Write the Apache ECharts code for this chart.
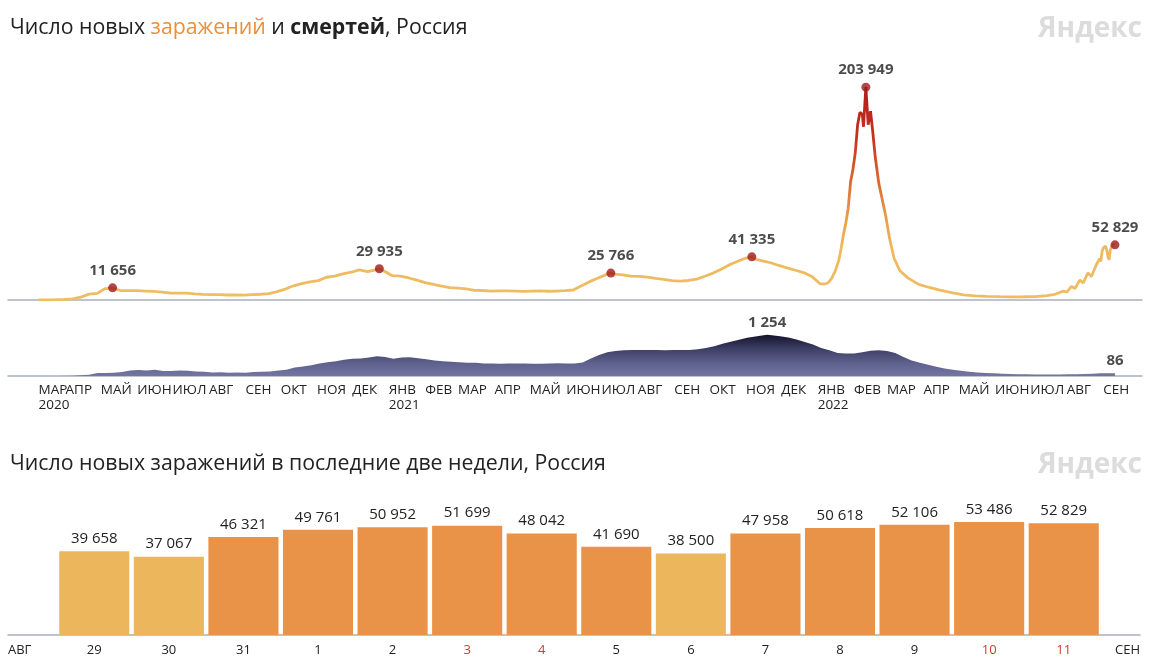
<!DOCTYPE html>
<html><head><meta charset="utf-8">
<script src="https://cdn.jsdelivr.net/npm/echarts@6/dist/echarts.min.js"></script>
<style>html,body{margin:0;padding:0;background:#fff}#c{width:1155px;height:670px}</style>
</head><body><div id="c"></div>
<script>
// ---------- DATA ----------
const casesDates = [
'2020-03-09','2020-03-20','2020-03-31','2020-04-07','2020-04-14','2020-04-21','2020-04-28','2020-05-04','2020-05-11','2020-05-18','2020-05-25',
'2020-06-01','2020-06-08','2020-06-15','2020-06-22','2020-06-29','2020-07-06','2020-07-13','2020-07-20','2020-07-27','2020-08-03','2020-08-10',
'2020-08-17','2020-08-24','2020-08-31','2020-09-07','2020-09-14','2020-09-21','2020-09-28','2020-10-05','2020-10-12','2020-10-19','2020-10-26',
'2020-11-02','2020-11-09','2020-11-16','2020-11-23','2020-11-30','2020-12-07','2020-12-14','2020-12-21','2020-12-24','2020-12-28',
'2021-01-04','2021-01-11','2021-01-18','2021-01-25','2021-02-01','2021-02-08','2021-02-15','2021-02-22','2021-03-01','2021-03-08','2021-03-15',
'2021-03-22','2021-03-29','2021-04-05','2021-04-12','2021-04-19','2021-04-26','2021-05-03','2021-05-10','2021-05-17','2021-05-24','2021-05-31',
'2021-06-07','2021-06-14','2021-06-21','2021-06-28','2021-07-05','2021-07-09','2021-07-12','2021-07-19','2021-07-26','2021-08-02','2021-08-09',
'2021-08-16','2021-08-23','2021-08-30','2021-09-06','2021-09-13','2021-09-20','2021-09-27','2021-10-04','2021-10-11','2021-10-18','2021-10-25',
'2021-11-01','2021-11-06','2021-11-08','2021-11-15','2021-11-22','2021-11-29','2021-12-06','2021-12-13','2021-12-20','2021-12-27',
'2022-01-03','2022-01-07','2022-01-10','2022-01-13','2022-01-16','2022-01-19','2022-01-21','2022-01-23','2022-01-25','2022-01-27','2022-01-29',
'2022-01-31','2022-02-02','2022-02-04','2022-02-06','2022-02-08','2022-02-09','2022-02-11','2022-02-13','2022-02-15','2022-02-17','2022-02-19',
'2022-02-22','2022-02-25','2022-02-28','2022-03-03','2022-03-07','2022-03-12','2022-03-19','2022-03-28','2022-04-06','2022-04-15','2022-04-25',
'2022-05-05','2022-05-15','2022-05-25','2022-06-05','2022-06-15','2022-06-25','2022-07-05','2022-07-15','2022-07-22','2022-07-29','2022-08-01',
'2022-08-05','2022-08-08','2022-08-12','2022-08-15','2022-08-19','2022-08-22','2022-08-26',
'2022-08-29','2022-08-30','2022-08-31','2022-09-01','2022-09-02','2022-09-03','2022-09-04','2022-09-05','2022-09-06','2022-09-07','2022-09-08',
'2022-09-09','2022-09-10','2022-09-11'];
const casesValues = [
10,60,500,1150,2800,5600,6400,10600,11656,8900,8900,
9000,8600,8200,7600,6700,6600,6500,5900,5400,5200,5100,
4800,4800,4700,5100,5500,6200,8100,10500,13600,15700,17300,
18600,21800,22800,25100,26600,28800,27300,28900,29935,27800,
23300,22900,21100,19000,16600,15000,13400,11800,11300,10600,9300,
9100,8500,8700,8800,8600,8300,8600,8800,8400,8600,9000,
9600,13700,17600,21000,24300,25766,24700,24000,22800,22600,21900,
20800,19800,18600,18100,18700,20000,22800,25800,29400,33700,37100,
40200,41335,39400,37600,35700,33100,30700,28500,26300,22600,
15600,15300,16500,21000,28000,38000,49500,63000,74000,88000,113000,
125000,141000,168000,180000,178000,166000,203949,168000,181000,160000,137000,
112000,96000,80000,60000,40000,28000,21000,15000,12000,9500,7000,
5000,4000,3500,3200,3000,3100,3300,4200,5500,8500,7500,
13000,11000,19000,16500,26000,22500,33500,
39658,37067,46321,49761,50952,51699,48042,41690,38500,47958,50618,
52106,53486,52829];

const deathsDates = [
'2020-03-09','2020-03-25','2020-04-07','2020-04-14','2020-04-21','2020-04-28','2020-05-05','2020-05-12','2020-05-19','2020-05-26',
'2020-06-02','2020-06-09','2020-06-16','2020-06-23','2020-06-30','2020-07-07','2020-07-14','2020-07-21','2020-07-28','2020-08-04',
'2020-08-11','2020-08-18','2020-08-25','2020-09-01','2020-09-08','2020-09-15','2020-09-22','2020-09-29','2020-10-06','2020-10-13',
'2020-10-20','2020-10-27','2020-11-03','2020-11-10','2020-11-17','2020-11-24','2020-12-01','2020-12-08','2020-12-15','2020-12-22','2020-12-29',
'2021-01-05','2021-01-12','2021-01-19','2021-01-26','2021-02-02','2021-02-09','2021-02-16','2021-02-23','2021-03-02','2021-03-09',
'2021-03-16','2021-03-23','2021-03-30','2021-04-06','2021-04-13','2021-04-20','2021-04-27','2021-05-04','2021-05-11','2021-05-18',
'2021-05-25','2021-06-01','2021-06-08','2021-06-15','2021-06-22','2021-06-29','2021-07-06','2021-07-13','2021-07-20','2021-07-27',
'2021-08-03','2021-08-10','2021-08-17','2021-08-24','2021-08-31','2021-09-07','2021-09-14','2021-09-21','2021-09-28','2021-10-05',
'2021-10-12','2021-10-19','2021-10-26','2021-11-02','2021-11-09','2021-11-16','2021-11-19','2021-11-23','2021-11-30','2021-12-07',
'2021-12-14','2021-12-21','2021-12-28',
'2022-01-04','2022-01-11','2022-01-18','2022-01-25','2022-02-01','2022-02-08','2022-02-15','2022-02-22','2022-03-01','2022-03-08',
'2022-03-15','2022-03-22','2022-03-29','2022-04-05','2022-04-12','2022-04-19','2022-04-26','2022-05-03','2022-05-10','2022-05-17',
'2022-05-24','2022-05-31','2022-06-07','2022-06-14','2022-06-21','2022-06-28','2022-07-05','2022-07-12','2022-07-19','2022-07-26',
'2022-08-02','2022-08-09','2022-08-16','2022-08-23','2022-08-30','2022-09-11'];
const deathsValues = [
0,1,5,20,40,90,90,100,120,170,
180,170,190,150,150,170,160,140,130,110,
115,100,110,100,120,130,140,170,190,260,
290,330,380,420,450,490,520,530,560,600,580,
520,560,570,540,510,470,450,430,420,400,
400,380,380,370,380,380,380,370,370,380,
390,380,380,410,530,640,720,760,780,790,
790,790,790,780,790,790,790,810,850,900,
980,1040,1100,1160,1200,1240,1254,1240,1210,1170,
1110,1030,960,
850,780,700,680,680,720,770,780,760,700,
580,470,400,340,280,230,190,160,130,110,
90,80,70,60,55,50,45,45,45,45,
50,55,60,70,80,86];

const casePeakDates = ['2020-05-11','2020-12-24','2021-07-09','2021-11-06','2022-02-11','2022-09-11'];
const casePeakValues = [11656, 29935, 25766, 41335, 203949, 52829];
const deathLabelDates = ['2021-11-19','2022-09-11'];
const deathLabelValues = [1254, 86];

const firstTickDate = '2020-03-09';
const firstTickLabel = 'МАР\n2020';
const monthTickDates = ['2020-04-01','2020-05-01','2020-06-01','2020-07-01','2020-08-01','2020-09-01','2020-10-01','2020-11-01','2020-12-01',
'2021-01-01','2021-02-01','2021-03-01','2021-04-01','2021-05-01','2021-06-01','2021-07-01','2021-08-01','2021-09-01','2021-10-01','2021-11-01','2021-12-01',
'2022-01-01','2022-02-01','2022-03-01','2022-04-01','2022-05-01','2022-06-01','2022-07-01','2022-08-01','2022-09-01'];
const monthTickLabels = ['АПР','МАЙ','ИЮН','ИЮЛ','АВГ','СЕН','ОКТ','НОЯ','ДЕК',
'ЯНВ\n2021','ФЕВ','МАР','АПР','МАЙ','ИЮН','ИЮЛ','АВГ','СЕН','ОКТ','НОЯ','ДЕК',
'ЯНВ\n2022','ФЕВ','МАР','АПР','МАЙ','ИЮН','ИЮЛ','АВГ','СЕН'];

const barDays = ['29','30','31','1','2','3','4','5','6','7','8','9','10','11'];
const barValues = [39658, 37067, 46321, 49761, 50952, 51699, 48042, 41690, 38500, 47958, 50618, 52106, 53486, 52829];
const weekendDays = ['3','4','10','11'];
const edgeMonthLabels = ['АВГ','СЕН'];

// ---------- CHART ----------
const FONT = '"Open Sans", "Noto Sans", sans-serif';
const fmt = n => String(n).replace(/\B(?=(\d{3})+(?!\d))/g, ' ');
const ts = s => { const [y, m, d] = s.split('-').map(Number); return Date.UTC(y, m - 1, d); };
const tickTs = monthTickDates.map(ts);
const AXIS_COLOR = '#a9b0bf';
const TITLE_SIZE = 21.3;
const monthLabelStyle = {align: 'left', color: '#222', fontSize: 13.5, fontFamily: FONT, margin: 7, lineHeight: 15,
  hideOverlap: false, showMinLabel: true, showMaxLabel: true};

const chart = echarts.init(document.getElementById('c'), null, {renderer: 'canvas'});
const dayAxisBase = {
  type: 'value', min: ts('2020-02-12'), max: ts('2022-10-04'),
  axisTick: {show: false}, splitLine: {show: false},
  axisLine: {lineStyle: {color: AXIS_COLOR, width: 1.5}}
};

chart.setOption({
  animation: false,
  backgroundColor: '#fff',
  textStyle: {fontFamily: FONT},
  title: [
    {left: 5, top: 12, text: '{n|Число новых }{o|заражений}{n| и }{b|смертей}{n|, Россия}',
     textStyle: {fontWeight: 'normal', rich: {
       n: {fontSize: TITLE_SIZE, color: '#222', fontWeight: 'normal', fontFamily: FONT},
       o: {fontSize: TITLE_SIZE, color: '#e8903a', fontWeight: 'normal', fontFamily: FONT},
       b: {fontSize: TITLE_SIZE, color: '#222', fontWeight: 'bold', fontFamily: FONT}}}},
    {left: 5, top: 448, text: 'Число новых заражений в последние две недели, Россия',
     textStyle: {fontSize: TITLE_SIZE, color: '#222', fontWeight: 'normal', fontFamily: FONT}}
  ],
  graphic: [
    {type: 'text', right: 13, top: 15, style: {text: 'Яндекс', font: 'bold 28px ' + FONT, fill: '#dcdcdc'}},
    {type: 'text', right: 13, top: 451, style: {text: 'Яндекс', font: 'bold 28px ' + FONT, fill: '#dcdcdc'}}
  ],
  grid: [
    {left: 8, right: 13, top: 60, height: 240},
    {left: 8, right: 13, top: 320, height: 56},
    {left: 57, right: 54, top: 487, height: 148},
    {left: 8, right: 15, top: 487, height: 148}
  ],
  xAxis: [
    Object.assign({}, dayAxisBase, {gridIndex: 0, axisLabel: {show: false}}),
    Object.assign({}, dayAxisBase, {gridIndex: 1, position: 'bottom', offset: 0, axisLabel: Object.assign({}, monthLabelStyle, {
      customValues: tickTs,
      formatter: v => { const i = tickTs.findIndex(t => Math.abs(t - v) < 43200000); return i >= 0 ? monthTickLabels[i] : ''; }
    })}),
    {type: 'category', gridIndex: 2, data: barDays.map(d => ({value: d, textStyle: {color: weekendDays.includes(d) ? '#c8402c' : '#222'}})),
     axisLine: {show: false}, axisTick: {show: false}, axisLabel: {fontSize: 13, margin: 9, fontFamily: FONT}},
    {type: 'category', gridIndex: 3, data: edgeMonthLabels, boundaryGap: false,
     axisLine: {lineStyle: {color: AXIS_COLOR, width: 1.5}}, axisTick: {show: false},
     axisLabel: {fontSize: 13, color: '#222', margin: 9, fontFamily: FONT, alignMinLabel: 'left', alignMaxLabel: 'right'}},
    Object.assign({}, dayAxisBase, {gridIndex: 1, position: 'bottom', offset: 0, axisLine: {show: false},
      axisLabel: Object.assign({}, monthLabelStyle, {
        customValues: [ts(firstTickDate)],
        formatter: () => firstTickLabel
      })})
  ],
  yAxis: [
    {gridIndex: 0, type: 'value', min: 0, max: 230000, show: false},
    {gridIndex: 1, type: 'value', min: 0, max: 1700, show: false},
    {gridIndex: 2, type: 'value', min: 0, max: 70000, show: false},
    {gridIndex: 3, type: 'value', min: 0, max: 1, show: false}
  ],
  series: [
    {type: 'line', xAxisIndex: 0, yAxisIndex: 0, symbol: 'none', z: 2,
     data: casesDates.map((d, i) => [ts(d), casesValues[i]]),
     lineStyle: {width: 2.8, color: new echarts.graphic.LinearGradient(0, 0, 0, 1, [
       {offset: 0, color: '#b01c1c'}, {offset: 0.25, color: '#c8321f'}, {offset: 0.45, color: '#dc6a30'},
       {offset: 0.6, color: '#e99a45'}, {offset: 0.75, color: '#efb95d'}, {offset: 1, color: '#efbd63'}])}},
    {type: 'scatter', xAxisIndex: 0, yAxisIndex: 0, symbolSize: 9, z: 3,
     itemStyle: {color: '#9e1a1a'},
     data: casePeakDates.map((d, i) => [ts(d), casePeakValues[i]]),
     label: {show: true, position: 'top', distance: 5, fontSize: 15, fontWeight: 'bold', color: '#1e1e1e', fontFamily: FONT,
       formatter: p => fmt(p.value[1])}},
    {type: 'line', xAxisIndex: 1, yAxisIndex: 1, symbol: 'none', z: 2,
     data: deathsDates.map((d, i) => [ts(d), deathsValues[i]]),
     lineStyle: {width: 0},
     areaStyle: {opacity: 1, color: new echarts.graphic.LinearGradient(0, 0, 0, 1, [
       {offset: 0, color: '#14142a'}, {offset: 0.35, color: '#3d3f66'}, {offset: 0.7, color: '#5f628e'}, {offset: 1, color: '#7376a2'}])}},
    {type: 'scatter', xAxisIndex: 1, yAxisIndex: 1, symbolSize: 1, z: 3,
     itemStyle: {color: 'rgba(0,0,0,0)'},
     data: deathLabelDates.map((d, i) => [ts(d), deathLabelValues[i]]),
     label: {show: true, position: 'top', distance: 4, fontSize: 15, fontWeight: 'bold', color: '#1e1e1e', fontFamily: FONT,
       formatter: p => fmt(p.value[1])}},
    {type: 'bar', xAxisIndex: 2, yAxisIndex: 2, barCategoryGap: '6%', z: 3,
     data: barValues,
     itemStyle: {color: p => p.value < 40000 ? '#ecb75c' : '#e99348'},
     label: {show: true, position: 'top', distance: 5, fontSize: 15, color: '#222', fontFamily: FONT, formatter: p => fmt(p.value)}}
  ]
});
</script></body></html>
